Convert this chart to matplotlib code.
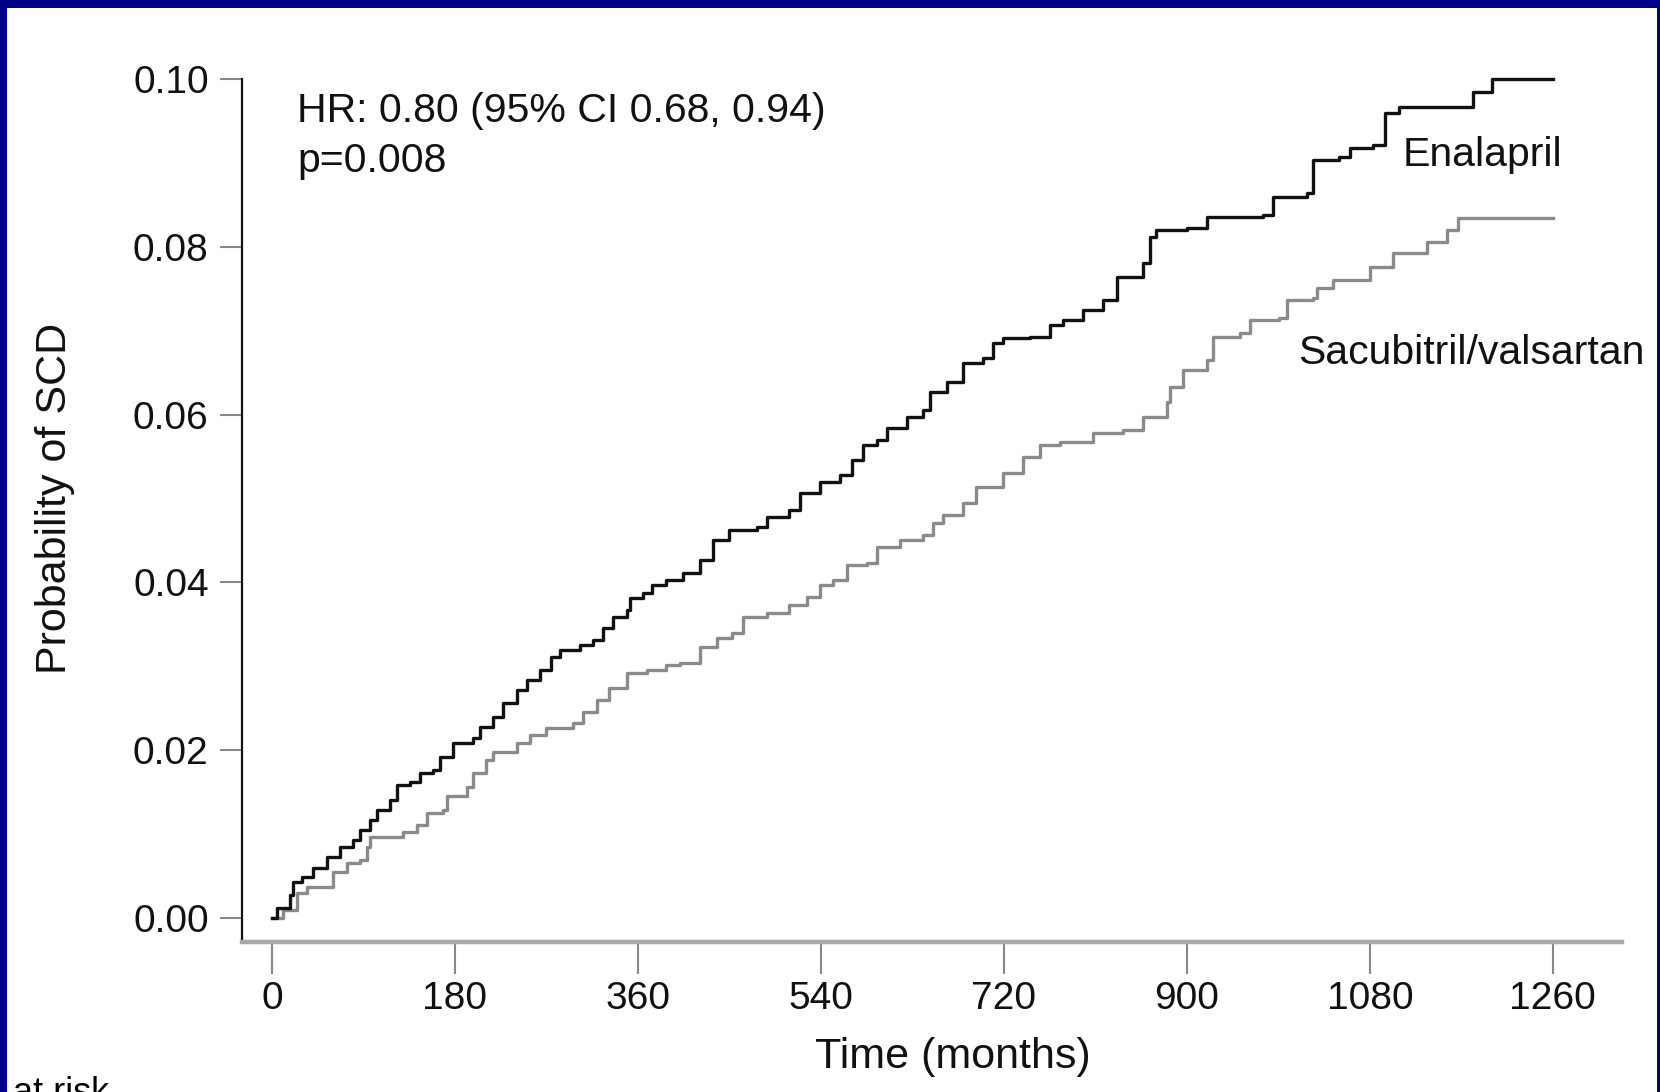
import matplotlib.pyplot as plt
import matplotlib.patches as mpatches

# Kaplan-Meier style cumulative incidence of sudden cardiac death
enalapril_t = [0, 5, 18, 21, 30, 40, 54, 67, 80, 87, 96, 103, 116, 123, 136, 146, 158,
               165, 178, 198, 205, 217, 227, 241, 251, 264, 274, 283, 303, 316, 326,
               335, 349, 352, 365, 374, 388, 404, 421, 434, 450, 477, 487, 509, 519,
               539, 559, 571, 581, 595, 605, 625, 640, 647, 664, 680, 699, 709, 719,
               746, 765, 778, 798, 817, 831, 857, 864, 870, 900, 920, 975, 985, 1018,
               1024, 1050, 1060, 1083, 1095, 1109, 1181, 1200, 1260]
enalapril_p = [0.0, 0.0012, 0.0027, 0.0043, 0.0049, 0.0060, 0.0073, 0.0085, 0.0093,
               0.0105, 0.0117, 0.0129, 0.0141, 0.0159, 0.0162, 0.0173, 0.0176, 0.0192,
               0.0209, 0.0215, 0.0228, 0.0240, 0.0256, 0.0272, 0.0284, 0.0296, 0.0311,
               0.0319, 0.0325, 0.0331, 0.0346, 0.0359, 0.0367, 0.0381, 0.0387, 0.0397,
               0.0403, 0.0411, 0.0427, 0.0451, 0.0462, 0.0466, 0.0478, 0.0486, 0.0506,
               0.0520, 0.0528, 0.0546, 0.0564, 0.0570, 0.0584, 0.0597, 0.0605, 0.0627,
               0.0639, 0.0661, 0.0668, 0.0685, 0.0691, 0.0692, 0.0707, 0.0713, 0.0725,
               0.0737, 0.0764, 0.0781, 0.0812, 0.0820, 0.0822, 0.0836, 0.0838, 0.0859,
               0.0864, 0.0903, 0.0907, 0.0918, 0.0921, 0.0959, 0.0967, 0.0985, 0.1000,
               0.1000]

sacval_t = [0, 11, 25, 34, 60, 74, 87, 93, 96, 129, 143, 152, 168, 172, 192, 198, 211,
            217, 241, 254, 270, 296, 306, 320, 332, 349, 369, 388, 401, 421, 438, 453,
            463, 487, 509, 526, 539, 552, 566, 585, 595, 618, 640, 650, 660, 680, 693,
            719, 739, 755, 775, 808, 837, 857, 880, 883, 896, 920, 926, 952, 962, 991,
            998, 1024, 1028, 1044, 1080, 1103, 1136, 1156, 1167, 1260]
sacval_p = [0.0, 0.0010, 0.0030, 0.0037, 0.0055, 0.0066, 0.0069, 0.0085, 0.0097, 0.0102,
            0.0111, 0.0125, 0.0129, 0.0145, 0.0156, 0.0173, 0.0188, 0.0198, 0.0209,
            0.0218, 0.0226, 0.0232, 0.0246, 0.0260, 0.0274, 0.0292, 0.0296, 0.0302,
            0.0304, 0.0323, 0.0334, 0.0340, 0.0359, 0.0364, 0.0373, 0.0383, 0.0397,
            0.0403, 0.0421, 0.0423, 0.0442, 0.0451, 0.0456, 0.0471, 0.0480, 0.0495,
            0.0514, 0.0530, 0.0549, 0.0564, 0.0567, 0.0578, 0.0582, 0.0597, 0.0615,
            0.0633, 0.0653, 0.0665, 0.0692, 0.0697, 0.0713, 0.0715, 0.0737, 0.0739,
            0.0751, 0.0760, 0.0776, 0.0793, 0.0806, 0.0820, 0.0834, 0.0834]

x_ticks = [0, 180, 360, 540, 720, 900, 1080, 1260]
y_ticks = [0.00, 0.02, 0.04, 0.06, 0.08, 0.10]

plt.rcParams['font.family'] = ['Liberation Sans', 'DejaVu Sans']

W, H = 1660, 1092
fig = plt.figure(figsize=(W / 100, H / 100), dpi=100)
fig.patch.set_facecolor('#000088')
# white slide area inside the navy frame
fig.patches.append(mpatches.Rectangle((7 / W, 0), (W - 7 - 3) / W, (H - 8) / H,
                                      transform=fig.transFigure, facecolor='white',
                                      edgecolor='none', zorder=-10))

ax = fig.add_axes([242 / W, (H - 942) / H, (1622 - 242) / W, (942 - 79) / H])
ax.set_facecolor('none')
ax.set_zorder(5)

ax.plot(enalapril_t, enalapril_p, drawstyle='steps-post', color='#111111', lw=2.4,
        clip_on=False, zorder=3)
ax.plot(sacval_t, sacval_p, drawstyle='steps-post', color='#8a8a8a', lw=2.4,
        clip_on=False, zorder=2)

ax.set_xlim(-29.5, 1328)
ax.set_ylim(-0.00286, 0.1)

for s in ['top', 'right']:
    ax.spines[s].set_visible(False)
ax.spines['left'].set_color('#111111')
ax.spines['left'].set_linewidth(1.6)
ax.spines['bottom'].set_color('#a8a8a8')
ax.spines['bottom'].set_linewidth(3.2)

ax.set_xticks(x_ticks)
ax.set_xticklabels([str(v) for v in x_ticks])
ax.set_yticks(y_ticks)
ax.set_yticklabels([f'{v:.2f}' for v in y_ticks])
ax.tick_params(axis='x', direction='out', length=23, width=1.5, color='#888888',
               pad=5, labelsize=28, labelcolor='#111111')
ax.tick_params(axis='y', direction='out', length=16, width=1.5, color='#888888',
               pad=8, labelsize=28, labelcolor='#111111')

ax.set_xlabel('Time (months)', fontsize=31, color='#111111')
ax.xaxis.set_label_coords(0.515, -0.133)
ax.xaxis.label.set_va('center')
ax.set_ylabel('Probability of SCD', fontsize=31, color='#111111')
ax.yaxis.set_label_coords(-0.1355, 0.514)
ax.yaxis.label.set_va('center')

ax.text(0.04, 0.963, 'HR: 0.80 (95% CI 0.68, 0.94)', transform=ax.transAxes,
        fontsize=29.5, color='#111111', va='center', ha='left')
ax.text(0.04, 0.905, 'p=0.008', transform=ax.transAxes,
        fontsize=29.5, color='#111111', va='center', ha='left')
ax.text(1112, 0.0910, 'Enalapril', fontsize=29.5, color='#111111', va='center', ha='left')
ax.text(1009, 0.0674, 'Sacubitril/valsartan', fontsize=29.5, color='#111111',
        va='center', ha='left')

# number-at-risk heading, running off the bottom edge
fig.text(13 / W, -0.010, 'at risk', fontsize=26, color='black', va='baseline', ha='left')

fig.savefig('out.png', dpi=100, facecolor=fig.get_facecolor())
